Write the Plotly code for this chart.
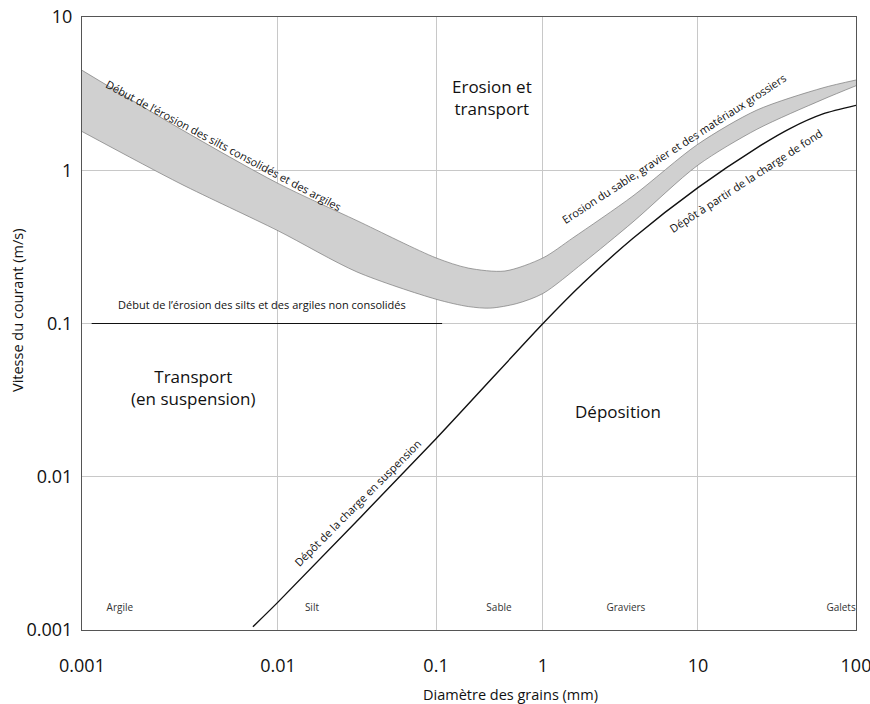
import numpy as np
import plotly.graph_objects as go

# ---------------- data (grain diameter in mm, velocity in m/s) ----------------
band_top_mm = [0.001, 0.00316, 0.01, 0.0316, 0.1, 0.2, 0.44, 1.0, 1.56, 3.81, 10, 23.6, 61.8, 100]
band_top_v = [4.49, 1.87, 0.821, 0.469, 0.268, 0.23, 0.22, 0.268, 0.362, 0.68, 1.48, 2.47, 3.45, 3.88]

band_bot_mm = [0.001, 0.00316, 0.01, 0.0316, 0.1, 0.2, 0.32, 0.57, 1.0, 1.81, 3.81, 10, 23.6, 61.8, 100]
band_bot_v = [1.79, 0.82, 0.403, 0.217, 0.144, 0.129, 0.126, 0.135, 0.157, 0.248, 0.46, 1.08, 1.85, 2.9, 3.56]

depot_mm = [0.00745, 0.01, 0.1, 1.0, 1.81, 3.81, 10, 23.6, 38.2, 61.8, 100]
depot_v = [0.00105, 0.00152, 0.0177, 0.1, 0.183, 0.36, 0.77, 1.40, 1.87, 2.33, 2.65]

unconsol_mm = [0.00112, 0.114]
unconsol_v = [0.1, 0.1]

x_tick_mm = [0.001, 0.01, 0.1, 1, 10, 100]
x_tick_text = ["0.001", "0.01", "0.1", "1", "10", "100"]
y_tick_v = [0.001, 0.01, 0.1, 1, 10]
y_tick_text = ["0.001", "0.01", "0.1", "1", "10"]

classes = ["Argile", "Silt", "Sable", "Graviers", "Galets"]
class_mm = [0.00156, 0.0164, 0.388, 3.43, 80.4]
class_v = [0.00139, 0.00139, 0.00139, 0.00139, 0.00139]

# ---------------- x scale (decades drawn with unequal widths, as in the figure) ----------------
DECADES = [-3, -2, -1, 0, 1, 2]
DECADE_POS = [0, 1.266, 2.287, 2.978, 3.979, 5.0]


def xpos(mm):
    return np.interp(np.log10(np.asarray(mm, dtype=float)), DECADES, DECADE_POS)


FONT = "Open Sans"
fig = go.Figure()

fig.add_trace(go.Scatter(x=xpos(band_bot_mm), y=band_bot_v, mode="lines",
                         line=dict(color="#7a7a7a", width=0.7, shape="spline", smoothing=0.8),
                         hoverinfo="skip", showlegend=False))
fig.add_trace(go.Scatter(x=xpos(band_top_mm), y=band_top_v, mode="lines", fill="tonexty",
                         fillcolor="#d0d0d0",
                         line=dict(color="#7a7a7a", width=0.7, shape="spline", smoothing=0.8),
                         hoverinfo="skip", showlegend=False))
fig.add_trace(go.Scatter(x=xpos(depot_mm), y=depot_v, mode="lines",
                         line=dict(color="#111111", width=1.4, shape="spline", smoothing=0.7),
                         hoverinfo="skip", showlegend=False))
fig.add_trace(go.Scatter(x=xpos(unconsol_mm), y=unconsol_v, mode="lines",
                         line=dict(color="#111111", width=1.2),
                         hoverinfo="skip", showlegend=False))
fig.add_trace(go.Scatter(x=xpos(class_mm), y=class_v, mode="text", text=classes,
                         textfont=dict(family=FONT, size=10, color="#333333"),
                         hoverinfo="skip", showlegend=False))


def ann(mm, v, text, size, angle=0, color="#111111"):
    fig.add_annotation(x=float(xpos(mm)), y=np.log10(v), text=text, showarrow=False,
                       textangle=angle, font=dict(family=FONT, size=size, color=color),
                       xanchor="center", yanchor="middle")


ann(0.333, 2.98, "Erosion et<br>transport", 17)
ann(0.00368, 0.038, "Transport<br>(en suspension)", 17)
ann(3.05, 0.0267, "Déposition", 17)
ann(0.0083, 0.133, "Début de l’érosion des silts et des argiles non consolidés", 11)
ann(0.0053, 1.44, "Début de l’érosion des silts consolidés et des argiles", 11, 28)
ann(7.0, 1.38, "Erosion du sable, gravier et des matériaux grossiers", 11, -33)
ann(20.1, 0.86, "Dépôt à partir de la charge de fond", 11, -33)
ann(0.032, 0.00676, "Dépôt de la charge en suspension", 11, -45)

# axis titles
fig.add_annotation(xref="paper", yref="paper", x=0.554, y=-0.106, text="Diamètre des grains (mm)",
                   showarrow=False, font=dict(family=FONT, size=14.5, color="#111111"),
                   xanchor="center", yanchor="middle")
fig.add_annotation(xref="paper", yref="paper", x=-0.084, y=0.522, text="Vitesse du courant (m/s)",
                   showarrow=False, textangle=-90, font=dict(family=FONT, size=14.5, color="#111111"),
                   xanchor="center", yanchor="middle")

fig.update_layout(
    width=870, height=704,
    margin=dict(l=82, r=14, t=17, b=74),
    paper_bgcolor="white", plot_bgcolor="white",
    font=dict(family=FONT, color="#111111"),
    showlegend=False,
    xaxis=dict(
        range=[0, 5], tickmode="array", tickvals=list(xpos(x_tick_mm)), ticktext=x_tick_text,
        tickfont=dict(size=18), showgrid=True, gridcolor="#c8c8c8", gridwidth=1,
        zeroline=False, showline=True, linecolor="#555555", linewidth=1.2, mirror=True,
        ticks="", ticklabelstandoff=19, automargin=False, ticklabeloverflow="allow",
    ),
    yaxis=dict(
        type="log", range=[-3, 1], tickmode="array", tickvals=y_tick_v, ticktext=y_tick_text,
        tickfont=dict(size=18), showgrid=True, gridcolor="#c8c8c8", gridwidth=1,
        zeroline=False, showline=True, linecolor="#555555", linewidth=1.2, mirror=True,
        ticks="", ticklabelstandoff=5, automargin=False, ticklabeloverflow="allow",
    ),
)

# the page's default body margin would push the 870x704 figure past the window edge
fig.write_html("out.html", config={"displayModeBar": False},
               post_script="document.body.style.margin='0';")
